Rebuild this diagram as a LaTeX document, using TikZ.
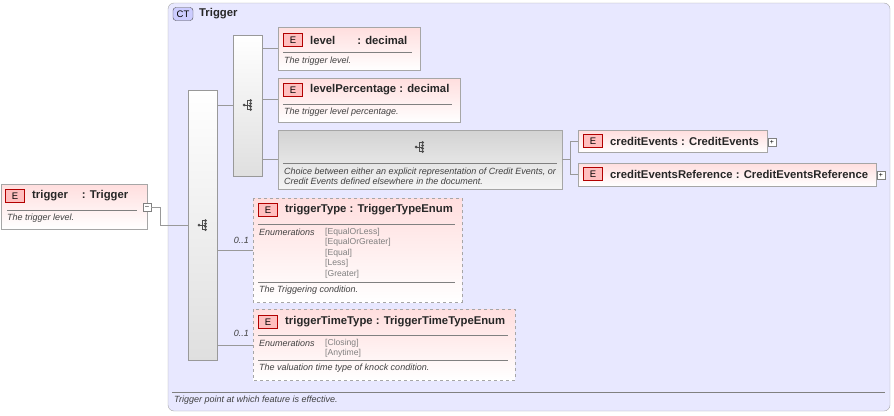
\documentclass[tikz,border=0pt]{standalone}
\usepackage{fontspec}
\setmainfont{Liberation Sans}
\begin{document}
\begin{tikzpicture}[x=1pt,y=-1pt,
  elem/.style={draw=gray!70,left color=red!13,right color=white,shading angle=0},
  ebadge/.style={draw=red!70!black,fill=red!25,minimum width=19pt,minimum height=13pt,inner sep=0pt,font=\fontsize{9.5}{10}\selectfont},
  hdr/.style={anchor=west,inner sep=0pt,font=\bfseries\fontsize{11.3}{12}\selectfont,text=black!85},
  desc/.style={anchor=west,inner sep=0pt,font=\itshape\fontsize{9}{10}\selectfont,text=black!75,align=left},
  enum/.style={anchor=west,inner sep=0pt,font=\fontsize{8.6}{9}\selectfont,text=gray},
  bar/.style={draw=gray!80,left color=white,right color=gray!25,shading angle=0},
  conn/.style={draw=gray!80},
  plusbox/.style={draw=gray,fill=white,minimum size=8pt,inner sep=0pt,font=\fontsize{7}{7}\selectfont}]
\useasboundingbox (0,0) rectangle (894,415);
\newcommand{\seqicon}[1]{%
 \begin{scope}[shift={#1}]
 \fill[black!70] (-4,0) circle(1.5);
 \draw[black!70,line width=0.7] (-4,0)--(-1,0) (-1,-4.5)--(-1,4.5) (-1,-4.5)--(2.5,-4.5) (-1,0)--(2.5,0) (-1,4.5)--(2.5,4.5);
 \fill[black!70] (2.5,-4.5) circle(1.5) (2.5,-1.5) circle(1.5) (2.5,1.5) circle(1.5) (2.5,4.5) circle(1.5);
 \end{scope}}
% trigger
\draw[elem] (1,184) rectangle (147,229);
\node[ebadge] (eT) at (15,196) {E};
\node[hdr] (tT) at (32,196) {trigger\hspace{14pt}: Trigger};
\draw[gray] (7,210)--(137,210);
\node[desc] (dT) at (7,218) {The trigger level.};
\node[plusbox] (mT) at (147,207) {--};
% container
\draw[draw=gray!70,fill=blue!9,rounded corners=6] (168,3) rectangle (890,411);
\node[draw=black!70,fill=blue!20,rounded corners=3,minimum width=20pt,minimum height=13pt,inner sep=0pt,font=\fontsize{9.5}{10}\selectfont] (ct) at (183,14) {CT};
\node[hdr] (ctl) at (199,14) {Trigger};
\draw[gray] (172,392)--(885,392);
\node[desc] at (174,400) {Trigger point at which feature is effective.};
\draw[conn] (mT.east) -- (160,207) -- (160,225) -- (188,225);
% bars
\draw[bar] (188,90) rectangle (217,360);
\seqicon{(203,225)}
\draw[bar] (233,35) rectangle (262,176);
\seqicon{(248,105)}
\draw[conn] (217,105)--(233,105);
\draw[conn] (262,48)--(278,48) (262,99)--(278,99) (262,159)--(278,159);
% level
\draw[elem] (278,27) rectangle (420,70);
\node[ebadge] at (293,40) {E};
\node[hdr] at (310,40) {level\hspace{22pt}: decimal};
\draw[gray] (283,52)--(412,52);
\node[desc] at (284,61) {The trigger level.};
% levelPercentage
\draw[elem] (278,78) rectangle (460,122);
\node[ebadge] at (293,90) {E};
\node[hdr] at (310,90) {levelPercentage : decimal};
\draw[gray] (283,104)--(452,104);
\node[desc] at (284,112) {The trigger level percentage.};
% choice
\draw[draw=gray!70,top color=gray!35,bottom color=gray!8] (278,130) rectangle (562,189);
\seqicon{(420,147)}
\draw[gray] (283,163)--(557,163);
\node[desc] at (284,176) {Choice between either an explicit representation of Credit Events, or\\Credit Events defined elsewhere in the document.};
\draw[conn] (562,159)--(570,159) (570,141)--(570,174) (570,141)--(578,141) (570,174)--(578,174);
% creditEvents
\draw[elem] (578,130) rectangle (767,152);
\node[ebadge] at (593,141) {E};
\node[hdr] at (610,141) {creditEvents : CreditEvents};
\node[plusbox] at (772,142) {+};
\draw[elem] (578,163) rectangle (876,186);
\node[ebadge] at (593,174) {E};
\node[hdr] at (610,174) {creditEventsReference : CreditEventsReference};
\node[plusbox] at (881,175) {+};
% triggerType
\draw[elem,dashed] (253,198) rectangle (462,302);
\node[ebadge] at (268,210) {E};
\node[hdr] at (285,210) {triggerType : TriggerTypeEnum};
\draw[gray] (258,224)--(455,224);
\node[desc] at (259,232) {Enumerations};
\node[enum] at (325,232) {[EqualOrLess]};
\node[enum] at (325,242) {[EqualOrGreater]};
\node[enum] at (325,253) {[Equal]};
\node[enum] at (325,263) {[Less]};
\node[enum] at (325,274) {[Greater]};
\draw[gray] (258,282)--(455,282);
\node[desc] at (259,290) {The Triggering condition.};
\node[desc,anchor=east] at (249,240) {0..1};
\draw[conn] (217,250)--(253,250);
% triggerTimeType
\draw[elem,dashed] (253,309) rectangle (515,380);
\node[ebadge] at (268,322) {E};
\node[hdr] at (285,322) {triggerTimeType : TriggerTimeTypeEnum};
\draw[gray] (258,335)--(508,335);
\node[desc] at (259,343) {Enumerations};
\node[enum] at (325,343) {[Closing]};
\node[enum] at (325,353) {[Anytime]};
\draw[gray] (258,360)--(508,360);
\node[desc] at (259,368) {The valuation time type of knock condition.};
\node[desc,anchor=east] at (249,333) {0..1};
\draw[conn] (217,345)--(253,345);
\end{tikzpicture}
\end{document}
